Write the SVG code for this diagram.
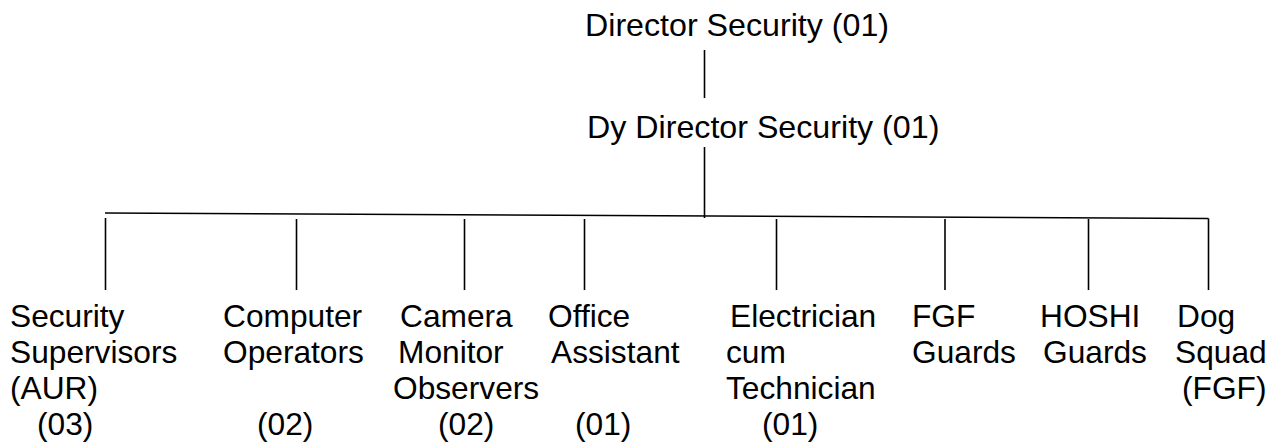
<svg xmlns="http://www.w3.org/2000/svg" width="1282" height="448" viewBox="0 0 1282 448">
<style>
text{font-family:"Liberation Sans",Arial,sans-serif;font-size:31.7px;fill:#000}
.top{font-size:32.2px}
.c line{stroke:#000;stroke-width:1.6}
</style>
<rect width="1282" height="448" fill="#fff"/>
<g class="c" id="connectors">
<line x1="704.5" y1="50" x2="704.5" y2="98"/>
<line x1="704.5" y1="147" x2="704.5" y2="218"/>
<line x1="105" y1="213" x2="1208.5" y2="218.5"/>
<line x1="105.5" y1="218" x2="105.5" y2="290"/>
<line x1="296.5" y1="219" x2="296.5" y2="290"/>
<line x1="464.5" y1="219" x2="464.5" y2="290"/>
<line x1="584.5" y1="219" x2="584.5" y2="290"/>
<line x1="776.5" y1="219" x2="776.5" y2="290"/>
<line x1="945" y1="219" x2="945" y2="290"/>
<line x1="1088.5" y1="219" x2="1088.5" y2="290"/>
<line x1="1208.5" y1="218.5" x2="1208.5" y2="290"/>
</g>
<g id="director"><text class="top" x="585" y="36">Director Security (01)</text></g>
<g id="dy-director"><text class="top" x="587" y="138">Dy Director Security (01)</text></g>
<g id="security-supervisors">
<text x="10" y="327">Security</text>
<text x="10" y="363">Supervisors</text>
<text x="10" y="399">(AUR)</text>
<text x="37" y="435">(03)</text>
</g>
<g id="computer-operators">
<text x="223" y="327">Computer</text>
<text x="223" y="363">Operators</text>
<text x="257" y="435">(02)</text>
</g>
<g id="camera-monitor">
<text x="400" y="327">Camera</text>
<text x="398" y="363">Monitor</text>
<text x="393" y="399">Observers</text>
<text x="438" y="435">(02)</text>
</g>
<g id="office-assistant">
<text x="548" y="327">Office</text>
<text x="551" y="363">Assistant</text>
<text x="575" y="435">(01)</text>
</g>
<g id="electrician">
<text x="730" y="327">Electrician</text>
<text x="726" y="363">cum</text>
<text x="726" y="399">Technician</text>
<text x="762" y="435">(01)</text>
</g>
<g id="fgf-guards">
<text x="912" y="327">FGF</text>
<text x="912" y="363">Guards</text>
</g>
<g id="hoshi-guards">
<text x="1040" y="327">HOSHI</text>
<text x="1043" y="363">Guards</text>
</g>
<g id="dog-squad">
<text x="1177" y="327">Dog</text>
<text x="1175" y="363">Squad</text>
<text x="1182" y="399">(FGF)</text>
</g>
</svg>
